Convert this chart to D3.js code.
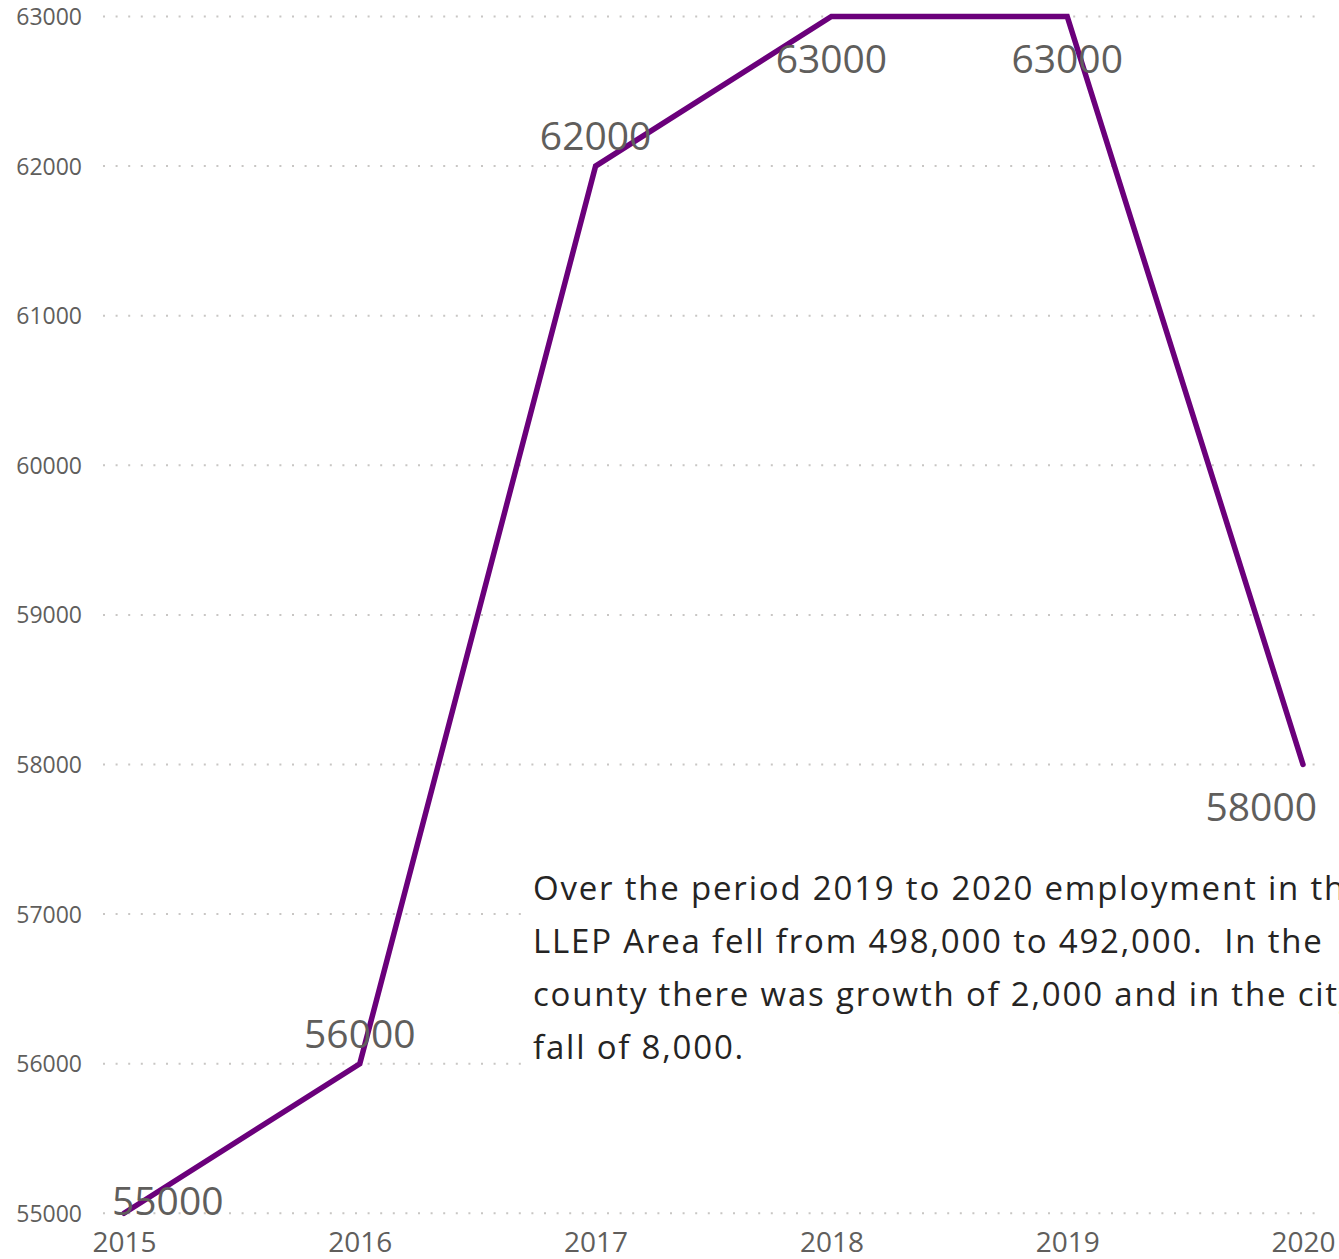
<!DOCTYPE html>
<html>
<head>
<meta charset="utf-8">
<script src="https://cdn.jsdelivr.net/npm/d3@7"></script>
<style>
  html, body { margin: 0; padding: 0; background: #ffffff; overflow: hidden; }
  svg { display: block; }
</style>
</head>
<body>
<svg id="chart" width="1339" height="1259"></svg>
<script>
// ---- data ----
const years = ["2015", "2016", "2017", "2018", "2019", "2020"];
const employment = [55000, 56000, 62000, 63000, 63000, 58000];
const yTicks = [55000, 56000, 57000, 58000, 59000, 60000, 61000, 62000, 63000];
const annotationLines = [
  "Over the period 2019 to 2020 employment in the",
  "LLEP Area fell from 498,000 to 492,000.  In the",
  "county there was growth of 2,000 and in the city a",
  "fall of 8,000."
];
// label placement style per point (not data)
const labelPlacement = ["start", "above", "above", "below", "below", "below-end"];

// ---- layout ----
const svg = d3.select("#chart");
const x = d3.scalePoint().domain(years).range([124, 1303]);
const y = d3.scaleLinear().domain([55000, 63000]).range([1213.3, 16.5]);

const FONT = "'Segoe UI', 'Open Sans', 'Noto Sans', sans-serif";
const gray = "#605E5C";

// y axis labels
const yAxis = d3.axisLeft(y).tickValues(yTicks).tickFormat(d3.format("d")).tickSize(0).tickPadding(0);
const gAxis = svg.append("g").attr("transform", "translate(82,0)").call(yAxis);
gAxis.select(".domain").remove();
gAxis.selectAll("text")
  .attr("font-family", FONT).attr("font-size", 23).attr("fill", gray)
  .attr("dy", "0.35em").attr("x", 0).attr("text-anchor", "end");

// gridlines
svg.append("g").selectAll("line").data(yTicks).join("line")
  .attr("x1", 103).attr("x2", 1316)
  .attr("y1", d => y(d)).attr("y2", d => y(d))
  .attr("stroke", "#c8c6c4").attr("stroke-width", 2)
  .attr("stroke-dasharray", "2,10.6");

// x axis
const xAxis = d3.axisBottom(x).tickSize(0).tickPadding(0);
const gx = svg.append("g").attr("transform", "translate(0,1252)").call(xAxis);
gx.select(".domain").remove();
gx.selectAll("text")
  .attr("font-family", FONT).attr("font-size", 28).attr("fill", gray)
  .attr("y", 0).attr("dy", 0);

// annotation background box (covers gridlines)
svg.append("rect").attr("x", 522).attr("y", 858).attr("width", 817).attr("height", 240).attr("fill", "#ffffff");

// line
const line = d3.line().x((d, i) => x(years[i])).y(d => y(d));
svg.append("path").datum(employment)
  .attr("d", line).attr("fill", "none")
  .attr("stroke", "#6B007B").attr("stroke-width", 5.5)
  .attr("stroke-linejoin", "miter").attr("stroke-linecap", "round");

// data labels
svg.append("g").selectAll("text").data(employment).join("text")
  .attr("font-family", FONT).attr("font-size", 39).attr("fill", gray)
  .attr("text-anchor", (d, i) => labelPlacement[i] === "start" ? "start" : labelPlacement[i] === "below-end" ? "end" : "middle")
  .attr("x", (d, i) => {
    const p = labelPlacement[i];
    if (p === "start") return x(years[i]) - 12;
    if (p === "below-end") return x(years[i]) + 14;
    return x(years[i]);
  })
  .attr("y", (d, i) => {
    const p = labelPlacement[i];
    if (p === "start") return y(d) + 2;
    if (p === "above") return y(d) - 16;
    return y(d) + 56;
  })
  .text(d => d);

// annotation text
const ann = svg.append("text")
  .attr("font-family", FONT).attr("font-size", 33).attr("fill", "#252423")
  .attr("letter-spacing", 1.8)
  .attr("xml:space", "preserve").style("white-space", "pre");
ann.selectAll("tspan").data(annotationLines).join("tspan")
  .attr("x", 533).attr("y", (d, i) => 900 + i * 53)
  .text(d => d);
</script>
</body>
</html>
